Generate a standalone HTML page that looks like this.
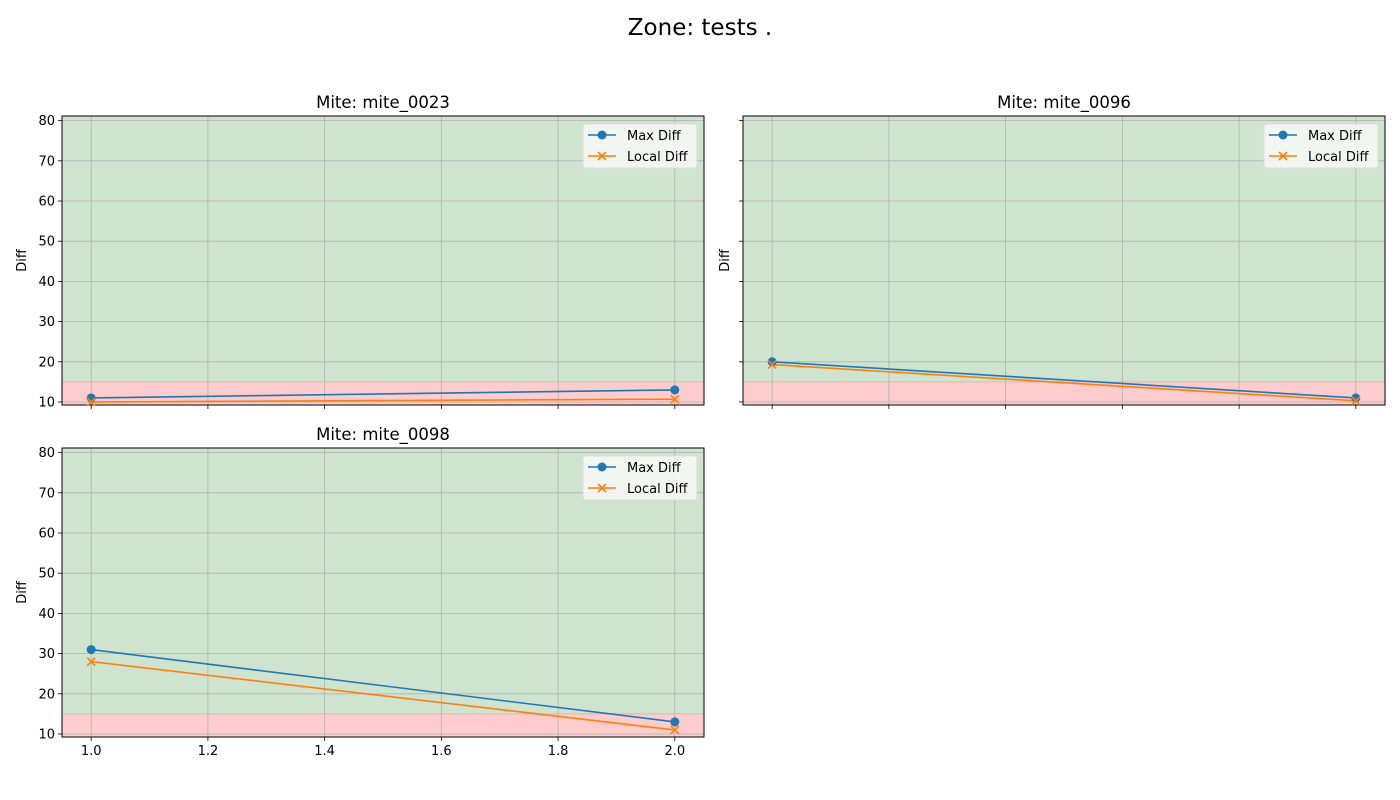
<!DOCTYPE html>
<html><head><meta charset="utf-8"><style>
body{margin:0;background:#fff;}
svg{display:block;font-family:"DejaVu Sans","Liberation Sans",sans-serif;}
</style></head><body>
<svg id="fig" width="1400" height="800">
<text x="700" y="35" text-anchor="middle" font-size="23">Zone: tests .</text>
</svg>
<script>
const titles = ["Mite: mite_0023", "Mite: mite_0096", "Mite: mite_0098"];
const xVals = [1.0, 2.0];
const maxDiff = [[11, 13], [20, 11], [31, 13]];
const localDiff = [[10, 10.7], [19.3, 10.3], [28, 11]];
const yTicks = [10, 20, 30, 40, 50, 60, 70, 80];
const xTicks = [1.0, 1.2, 1.4, 1.6, 1.8, 2.0];
const threshold = [15];

const NS = "http://www.w3.org/2000/svg";
const svg = document.getElementById('fig');
function mk(tag, attrs, parent) {
  const e = document.createElementNS(NS, tag);
  for (const k in attrs) e.setAttribute(k, attrs[k]);
  (parent || svg).appendChild(e);
  return e;
}
const panels = [
  {x0: 62, y0: 116, showXLabels: false, showYLabels: true, ylabOff: 40},
  {x0: 743, y0: 116, showXLabels: false, showYLabels: false, ylabOff: 18},
  {x0: 62, y0: 448, showXLabels: true, showYLabels: true, ylabOff: 40}
];
const W = 642, H = 289;
const xmin = 0.95, xmax = 2.05, ymin = 9.25, ymax = 81.15;

panels.forEach((p, i) => {
  const g = mk('g', {});
  
  
  const X = v => p.x0 + (v - xmin) / (xmax - xmin) * W;
  const Y = v => p.y0 + H - (v - ymin) / (ymax - ymin) * H;
  const green = mk('rect', {x: p.x0, y: p.y0, width: W, height: Y(threshold[0]) - p.y0, fill: '#cfe4cf'}, g);
  
  
  const red = mk('rect', {x: p.x0, y: Y(threshold[0]), width: W, height: p.y0 + H - Y(threshold[0]), fill: '#fdcccc'}, g);
  
  
  mk('line', {x1: p.x0, x2: p.x0 + W, y1: Y(threshold[0]), y2: Y(threshold[0]), stroke: '#e0b8a8', 'stroke-width': 1}, g);
  yTicks.forEach(t => {
    const y = Y(t);
    mk('line', {x1: p.x0, x2: p.x0 + W, y1: y, y2: y, stroke: '#b0b0b0', 'stroke-width': 0.8}, g);
    mk('line', {x1: p.x0 - 4, x2: p.x0, y1: y, y2: y, stroke: '#000', 'stroke-width': 0.8}, g);
    if (p.showYLabels) {
      const tx = mk('text', {x: p.x0 - 7, y: y + 4.5, 'text-anchor': 'end', 'font-size': 13}, g);
      tx.textContent = t;
      
      
    }
  });
  xTicks.forEach(t => {
    const x = X(t);
    mk('line', {x1: x, x2: x, y1: p.y0, y2: p.y0 + H, stroke: '#b0b0b0', 'stroke-width': 0.8}, g);
    mk('line', {x1: x, x2: x, y1: p.y0 + H, y2: p.y0 + H + 4, stroke: '#000', 'stroke-width': 0.8}, g);
    if (p.showXLabels) {
      const tx = mk('text', {x: x, y: p.y0 + H + 18, 'text-anchor': 'middle', 'font-size': 13}, g);
      tx.textContent = t.toFixed(1);
      
      
    }
  });
  mk('rect', {x: p.x0, y: p.y0, width: W, height: H, fill: 'none', stroke: '#000', 'stroke-width': 1}, g);
  const tt = mk('text', {x: p.x0 + W / 2, y: p.y0 - 8, 'text-anchor': 'middle', 'font-size': 16.5}, g);
  tt.textContent = titles[i];
  
  
  const yl = mk('text', {x: 0, y: 0, 'text-anchor': 'middle', 'font-size': 13, transform: `translate(${p.x0 - p.ylabOff + 4},${p.y0 + H / 2}) rotate(-90)`}, g);
  yl.textContent = 'Diff';
  
  
  const mpts = xVals.map((v, k) => X(v) + ',' + Y(maxDiff[i][k])).join(' ');
  const lpts = xVals.map((v, k) => X(v) + ',' + Y(localDiff[i][k])).join(' ');
  const ml = mk('polyline', {points: mpts, fill: 'none', stroke: '#1f77b4', 'stroke-width': 1.6}, g);
  
  
  const ll = mk('polyline', {points: lpts, fill: 'none', stroke: '#ff7f0e', 'stroke-width': 1.6}, g);
  
  
  xVals.forEach((v, k) => {
    const c = mk('circle', {cx: X(v), cy: Y(maxDiff[i][k]), r: 4.5, fill: '#1f77b4'}, g);
    
    
    const cx = X(v), cy = Y(localDiff[i][k]);
    const m = mk('path', {d: `M${cx-4},${cy-4}L${cx+4},${cy+4}M${cx-4},${cy+4}L${cx+4},${cy-4}`, stroke: '#ff7f0e', 'stroke-width': 1.6}, g);
    
    
  });
  const lx = p.x0 + W - 121, ly = p.y0 + 8;
  const lg = mk('g', {}, g);
  
  
  mk('rect', {x: lx, y: ly, width: 114, height: 44, rx: 3, fill: '#f7f9f7', 'fill-opacity': 0.85, stroke: '#dddddd'}, lg);
  mk('line', {x1: lx + 5, x2: lx + 33, y1: ly + 11, y2: ly + 11, stroke: '#1f77b4', 'stroke-width': 1.6}, lg);
  mk('circle', {cx: lx + 19, cy: ly + 11, r: 4.5, fill: '#1f77b4'}, lg);
  const t1 = mk('text', {x: lx + 44, y: ly + 16, 'font-size': 13}, lg);
  t1.textContent = 'Max Diff';
  
  
  mk('line', {x1: lx + 5, x2: lx + 33, y1: ly + 32, y2: ly + 32, stroke: '#ff7f0e', 'stroke-width': 1.6}, lg);
  mk('path', {d: `M${lx+15},${ly+28}L${lx+23},${ly+36}M${lx+15},${ly+36}L${lx+23},${ly+28}`, stroke: '#ff7f0e', 'stroke-width': 1.6}, lg);
  const t2 = mk('text', {x: lx + 44, y: ly + 37, 'font-size': 13}, lg);
  t2.textContent = 'Local Diff';
  
  
});
</script>
</body></html>
